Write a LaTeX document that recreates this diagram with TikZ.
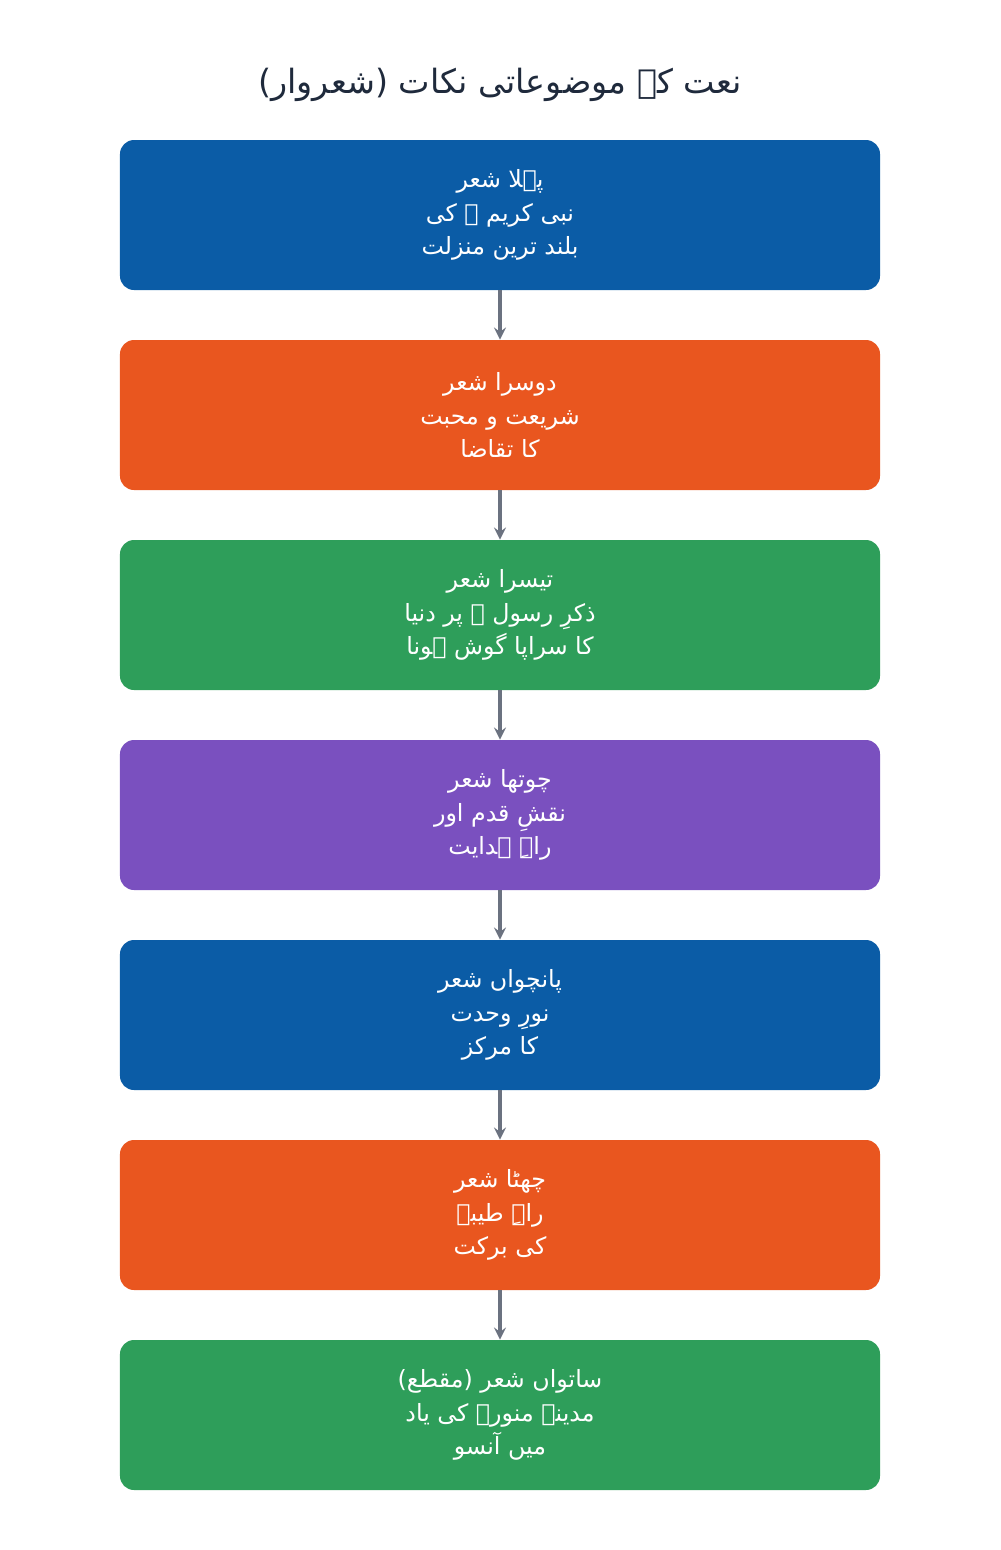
\documentclass[tikz,border=0pt]{standalone}
\usepackage{fontspec}
\newfontfamily\arabicfont[Script=Arabic]{DejaVu Sans}
\TeXXeTstate=1
\usetikzlibrary{arrows,matrix}
\definecolor{naatblue}{HTML}{0B5CA6}
\definecolor{naatorange}{HTML}{E9561F}
\definecolor{naatgreen}{HTML}{2E9E5A}
\definecolor{naatpurple}{HTML}{7A50BF}
\definecolor{naatgray}{HTML}{6B7280}
\definecolor{naatnavy}{HTML}{1F2A3C}
\newcommand{\ur}[1]{\beginR #1\endR}

\begin{document}
\begin{tikzpicture}[
    sher/.style={rounded corners=0.28cm,minimum width=15.2cm,minimum height=3cm,
      text=white,align=center,font=\arabicfont\fontsize{13.5}{19}\selectfont}]
  \useasboundingbox (0,0) rectangle (20,-31);
  \node (title) [text=naatnavy,font=\arabicfont\fontsize{19}{24}\selectfont] at (10,-1.7)
    {\ur{نعت کے موضوعاتی نکات (شعروار)}};
  \matrix (m) [row sep=1cm,ampersand replacement=\&] at (10,-16.3)
   {
     \node (s1) [sher,fill=naatblue] {\ur{پہلا شعر}\\ \ur{نبی کریم ﷺ کی}\\ \ur{بلند ترین منزلت}}; \\
     \node (s2) [sher,fill=naatorange] {\ur{دوسرا شعر}\\ \ur{شریعت و محبت}\\ \ur{کا تقاضا}}; \\
     \node (s3) [sher,fill=naatgreen] {\ur{تیسرا شعر}\\ \ur{ذکرِ رسول ﷺ پر دنیا}\\ \ur{کا سراپا گوش ہونا}}; \\
     \node (s4) [sher,fill=naatpurple] {\ur{چوتھا شعر}\\ \ur{نقشِ قدم اور}\\ \ur{راہِ ہدایت}}; \\
     \node (s5) [sher,fill=naatblue] {\ur{پانچواں شعر}\\ \ur{نورِ وحدت}\\ \ur{کا مرکز}}; \\
     \node (s6) [sher,fill=naatorange] {\ur{چھٹا شعر}\\ \ur{راہِ طیبہ}\\ \ur{کی برکت}}; \\
     \node (s7) [sher,fill=naatgreen] {\ur{ساتواں شعر (مقطع)}\\ \ur{مدینہ منورہ کی یاد}\\ \ur{میں آنسو}}; \\
     };
   \path[-stealth,color=naatgray,line width=2pt]
     (s1) edge (s2)
     (s2) edge (s3)
     (s3) edge (s4)
     (s4) edge (s5)
     (s5) edge (s6)
     (s6) edge (s7);
\end{tikzpicture}
\end{document}
